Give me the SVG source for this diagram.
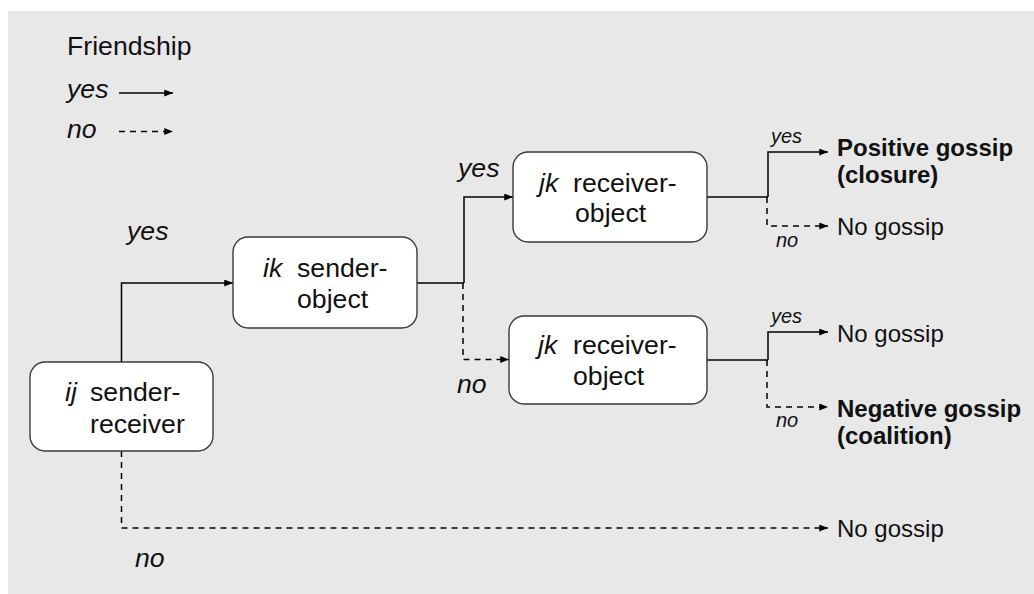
<svg xmlns="http://www.w3.org/2000/svg" width="1034" height="594" viewBox="0 0 1034 594">
  <style>
    text { font-family: "Liberation Sans", Arial, sans-serif; fill: #111; }
    .big { font-size: 26.67px; }
    .mid { font-size: 24px; }
    .small { font-size: 20px; }
    .it { font-style: italic; }
    .b { font-weight: bold; }
    .box { fill: #ffffff; stroke: #3a3a3a; stroke-width: 1.4; }
    .yes { fill: none; stroke: #000; stroke-width: 1.5; marker-end: url(#arrow); }
    .no { fill: none; stroke: #000; stroke-width: 1.5; stroke-dasharray: 6 5; marker-end: url(#arrow); }
    .plain { fill: none; stroke: #000; stroke-width: 1.5; }
  </style>
  <defs>
    <marker id="arrow" viewBox="0 0 10 8" refX="10" refY="4" markerWidth="9" markerHeight="7" markerUnits="userSpaceOnUse" orient="auto">
      <path d="M0,0 L10,4 L0,8 Z" fill="#000"/>
    </marker>
  </defs>

  <rect x="0" y="0" width="1034" height="594" fill="#ffffff"/>
  <rect x="8" y="11" width="1026" height="583" fill="#e8e8e8"/>

  <!-- legend -->
  <g id="legend">
    <text class="big" x="67" y="55">Friendship</text>
    <text class="big it" x="67" y="98">yes</text>
    <path class="yes" d="M119,93 H173"/>
    <text class="big it" x="67" y="138">no</text>
    <path class="no" d="M119,131.5 H173"/>
  </g>

  <!-- connectors -->
  <g id="connectors">
    <path class="yes" d="M121.5,362 V283 H233"/>
    <path class="no" d="M121.5,451 V528 H828"/>
    <path class="plain" d="M417,283 H464"/>
    <path class="yes" d="M464,283 V197 H513"/>
    <path class="no" d="M463,283 V359.5 H509"/>
    <path class="plain" d="M707,197 H768"/>
    <path class="yes" d="M768,197 V152 H828"/>
    <path class="no" d="M767,197 V226 H828"/>
    <path class="plain" d="M707,360 H768"/>
    <path class="yes" d="M768,360 V332 H828"/>
    <path class="no" d="M767,360 V407 H828"/>
  </g>

  <!-- branch labels -->
  <g id="labels">
    <text class="big it" x="127" y="240">yes</text>
    <text class="big it" x="135" y="567">no</text>
    <text class="big it" x="458" y="177">yes</text>
    <text class="big it" x="457" y="393">no</text>
    <text class="small it" x="771" y="143">yes</text>
    <text class="small it" x="776" y="247">no</text>
    <text class="small it" x="771" y="323">yes</text>
    <text class="small it" x="776" y="427">no</text>
  </g>

  <g id="node-ij">
    <rect class="box" x="30" y="362" width="183" height="89" rx="15"/>
    <text class="big"><tspan class="it" x="65" y="401">ij</tspan><tspan x="90" y="401">sender-</tspan></text>
    <text class="big" x="90" y="433">receiver</text>
  </g>

  <g id="node-ik">
    <rect class="box" x="233" y="237" width="184" height="91" rx="15"/>
    <text class="big"><tspan class="it" x="263" y="277">ik</tspan><tspan x="297" y="277">sender-</tspan></text>
    <text class="big" x="297" y="308">object</text>
  </g>

  <g id="node-jk-yes">
    <rect class="box" x="513" y="152" width="194" height="90" rx="15"/>
    <text class="big"><tspan class="it" x="539" y="192">jk</tspan><tspan x="573" y="192">receiver-</tspan></text>
    <text class="big" x="575" y="222">object</text>
  </g>

  <g id="node-jk-no">
    <rect class="box" x="509" y="316" width="198" height="88" rx="15"/>
    <text class="big"><tspan class="it" x="538" y="354">jk</tspan><tspan x="573" y="354">receiver-</tspan></text>
    <text class="big" x="573" y="385">object</text>
  </g>

  <g id="outcome-positive">
    <text class="mid b" x="837" y="156">Positive gossip</text>
    <text class="mid b" x="837" y="183">(closure)</text>
  </g>
  <g id="outcome-none-1">
    <text class="mid" x="837" y="235">No gossip</text>
  </g>
  <g id="outcome-none-2">
    <text class="mid" x="837" y="342">No gossip</text>
  </g>
  <g id="outcome-negative">
    <text class="mid b" x="837" y="417">Negative gossip</text>
    <text class="mid b" x="837" y="444">(coalition)</text>
  </g>
  <g id="outcome-none-3">
    <text class="mid" x="837" y="537">No gossip</text>
  </g>
</svg>
